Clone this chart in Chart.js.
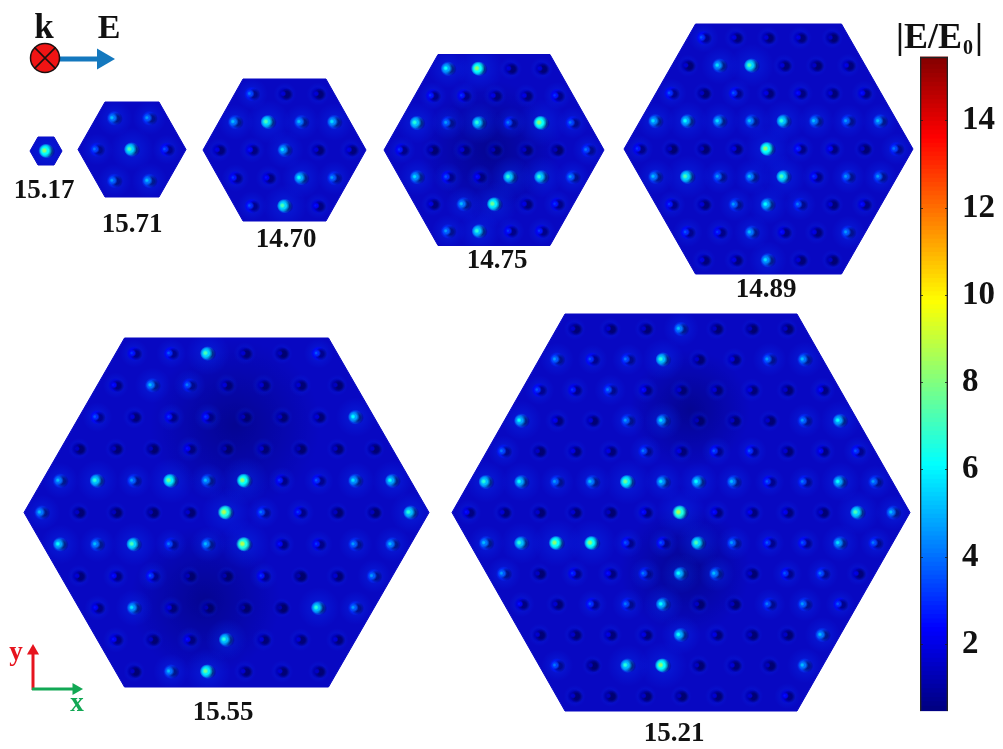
<!DOCTYPE html>
<html>
<head>
<meta charset="utf-8">
<title>Field enhancement maps</title>
<script src="https://cdn.jsdelivr.net/npm/chart.js@4/dist/chart.umd.min.js"></script>
<style>
    body { margin: 0; background: #fff; }
    #wrap { position: relative; width: 1003px; height: 749px; overflow: hidden; }
    #maps { position: absolute; left: 0; top: 0; }
    #bar { position: absolute; left: 915px; top: 23px; }
</style>
</head>
<body>
<div id="wrap">
    <canvas id="maps" width="1003" height="749"></canvas>
    <canvas id="bar" width="88" height="722"></canvas>
</div>
<script>
// peak |E/E0| printed under each map
const peakLabels = ['15.17', '15.71', '14.70', '14.75', '14.89', '15.55', '15.21'];

// local |E/E0| read at each particle, row by row from the top of each hexagon
const field1517 = [[8]];
const field1571 = [[5, 4.5], [4, 7, 3.5], [4.5, 5]];
const field1470 = [
    [4, 1.8, 1.8],
    [5, 7, 5, 5.5],
    [2, 2.5, 5.5, 1.8, 2],
    [3, 2.5, 6, 4.5],
    [3.5, 7, 2.5]
];
const field1475 = [
    [6, 8, 1.8, 1.8],
    [3, 3, 2, 2, 3],
    [6.5, 4.5, 6.5, 4, 8, 4],
    [3, 1.5, 1.8, 1.3, 1.5, 1.3, 4],
    [5.5, 3.5, 2.5, 6.5, 6.5, 4.5],
    [2, 5, 7.5, 2, 3],
    [4.5, 6.5, 3, 3]
];
const field1489 = [
    [3.5, 2, 1.8, 2, 1.5],
    [1.7, 5.5, 7, 1.8, 1.5, 2],
    [3.5, 1.5, 3.5, 2, 2.5, 1.8, 2.5],
    [5.5, 6, 5.5, 5, 6.5, 5, 4.5, 5],
    [3, 1.5, 1.5, 2, 8, 3, 2.5, 1.5, 4],
    [5, 7, 4.5, 5, 7, 3, 4.5, 4.5],
    [3, 1.8, 4.5, 6, 4, 1.8, 2.5],
    [3.5, 3, 5, 2.5, 2, 4.5],
    [2, 2, 5.5, 1.8, 1.5]
];
const field1555 = [
    [3, 3.5, 7, 1.7, 1.4, 3.5],
    [2.5, 5, 4, 1.8, 1.7, 1.7, 1.4],
    [3.5, 1.8, 3, 3, 1.3, 1.5, 1.8, 6],
    [1.5, 1.5, 1.3, 2.5, 1.2, 1.7, 1.3, 1.5, 1.5],
    [5, 6.5, 4.5, 7.5, 5, 8, 3, 3.5, 5.5, 6],
    [5, 1.5, 1.4, 1.3, 1.6, 8.5, 4, 3, 1.4, 1.4, 6.5],
    [6, 5, 7, 4, 5, 8.5, 2.5, 3, 4.5, 5],
    [1.8, 2.5, 3.5, 1.3, 1.1, 3, 1.1, 1.7, 4.5],
    [2.5, 5.5, 2, 1.2, 1.1, 1.1, 6.5, 4.5],
    [2.5, 1.5, 2.5, 6.5, 1.8, 1.8, 1.8],
    [1.5, 5, 7.5, 1.7, 1.7, 1.5]
];
const field1521 = [
    [1.6, 1.7, 1.6, 5, 1.5, 1.4, 1.5],
    [4.5, 3.5, 4, 6.5, 1.6, 2, 4.5, 5],
    [3.5, 3, 4, 2.5, 1.7, 1.8, 2, 1.6, 2.5],
    [6, 2.2, 1.8, 4.5, 5.5, 1.3, 1.5, 1.6, 4.5, 6],
    [4, 1.5, 2, 2, 4, 2, 3.5, 3.5, 1.7, 2.5, 3.5],
    [6.5, 6, 4.5, 5, 7.5, 5.5, 6, 5, 3.5, 4, 6, 4.5],
    [2.5, 1.8, 1.6, 1.7, 1.4, 2.5, 8.5, 2.5, 2.2, 2.2, 1.7, 7, 5],
    [5, 6.5, 8, 8, 3.5, 3.5, 7, 4.5, 3.5, 3.5, 5.5, 4],
    [4.5, 1.5, 3, 2.5, 4, 6, 5, 1.6, 3.5, 4, 2],
    [2.5, 1.7, 3.5, 4, 6, 1.5, 1.4, 4, 4.5, 3.5],
    [1.7, 1.6, 2, 2, 6, 2, 1.5, 1.5, 5],
    [4, 1.3, 6.5, 8, 1.5, 1.8, 1.4, 5],
    [1.6, 1.4, 1.5, 1.4, 1.7, 1.7, 2.5]
];

// colour bar ticks and range
const barTicks = [2, 4, 6, 8, 10, 12, 14];
const barMin = 0.47;
const barMax = 15.47;

// page layout of the panels, in the same order as peakLabels
const panels = [
    { field: field1517, cx: 46, cy: 151, halfW: 16, halfTop: 8, halfH: 14, px: 0, py: 0, partX: 47, labelX: 44, labelY: 198 },
    { field: field1571, cx: 132, cy: 149.5, halfW: 54, halfTop: 27, halfH: 47.5, px: 35, py: 31.3, partX: 132, labelX: 132, labelY: 232 },
    { field: field1470, cx: 284.5, cy: 150, halfW: 81.5, halfTop: 41.5, halfH: 71, px: 33, py: 28, partX: 285, labelX: 286, labelY: 247 },
    { field: field1475, cx: 494, cy: 150, halfW: 110, halfTop: 56, halfH: 95.5, px: 31.1, py: 27.1, partX: 495, labelX: 497, labelY: 268 },
    { field: field1489, cx: 768.5, cy: 149, halfW: 144.5, halfTop: 73, halfH: 125, px: 32.1, py: 27.8, partX: 768, labelX: 766, labelY: 297 },
    { field: field1555, cx: 226.5, cy: 512.5, halfW: 202.5, halfTop: 102, halfH: 174.5, px: 36.9, py: 31.8, partX: 226.5, labelX: 223, labelY: 720 },
    { field: field1521, cx: 681, cy: 512.5, halfW: 229, halfTop: 116, halfH: 198.5, px: 35.4, py: 30.6, partX: 681, labelX: 674, labelY: 741 }
];

// darker background patches inside the maps
const darkX = [490, 235, 205, 690, 685];
const darkY = [150, 425, 600, 410, 570];
const darkR = [70, 85, 75, 60, 65];

function jetChannels(v) {
    const t = Math.min(1, Math.max(0, (v - barMin) / (barMax - barMin)));
    const ch = d => Math.round(255 * Math.min(1, Math.max(0, 1.5 - Math.abs(4 * t - d))));
    return [ch(3), ch(2), ch(1)];
}

function jet(v, alpha = 1) {
    return `rgba(${jetChannels(v).join(',')},${alpha})`;
}

function hexCorners(p) {
    return [
        { x: p.cx - p.halfW, y: p.cy }, { x: p.cx - p.halfTop, y: p.cy - p.halfH },
        { x: p.cx + p.halfTop, y: p.cy - p.halfH }, { x: p.cx + p.halfW, y: p.cy },
        { x: p.cx + p.halfTop, y: p.cy + p.halfH }, { x: p.cx - p.halfTop, y: p.cy + p.halfH },
        { x: p.cx - p.halfW, y: p.cy }
    ];
}

// soft round marker, colours given per point
function radial(inner, outer, radii, hold = 0) {
    return c => {
        const s = c.chart.scales;
        const r = radii[c.dataIndex];
        if (!c.parsed || !s.x || !r) return 'rgba(0,0,0,0)';
        const px = s.x.getPixelForValue(c.parsed.x);
        const py = s.y.getPixelForValue(c.parsed.y);
        if (!isFinite(px) || !isFinite(py)) return 'rgba(0,0,0,0)';
        const g = c.chart.ctx.createRadialGradient(px, py, 0, px, py, r);
        g.addColorStop(0, inner(c.dataIndex));
        if (hold) g.addColorStop(hold, inner(c.dataIndex));
        g.addColorStop(1, outer(c.dataIndex));
        return g;
    };
}

const datasets = [];

// hexagons first so everything else lands on top
panels.forEach(p => {
    datasets.push({
        type: 'scatter', showLine: true, pointRadius: 0, fill: 'shape',
        borderColor: '#0808c2', borderWidth: 1, backgroundColor: '#0808c2',
        data: hexCorners(p)
    });
});

datasets.push({
    type: 'scatter', hexClip: true, pointBorderWidth: 0,
    data: darkX.map((x, i) => ({ x, y: darkY[i] })),
    pointRadius: darkR,
    pointBackgroundColor: radial(() => 'rgba(0,0,80,0.42)', () => 'rgba(0,0,80,0)', darkR)
});

// one point per particle: glow, shell, dark side, lit body, hot spot
const cells = [];
panels.forEach(p => {
    p.field.forEach((row, r) => {
        const y = p.cy + (r - (p.field.length - 1) / 2) * p.py;
        row.forEach((v, i) => {
            cells.push({ x: p.partX + (i - (row.length - 1) / 2) * p.px, y, v });
        });
    });
});

function softLayer(dx, dy, radii, inner, outer, hold) {
    datasets.push({
        type: 'scatter', hexClip: true, pointBorderWidth: 0,
        data: cells.map(d => ({ x: d.x + dx, y: d.y + dy })),
        pointRadius: radii,
        pointBackgroundColor: radial(inner, outer, radii, hold)
    });
}

softLayer(0, 0, cells.map(d => 8 + d.v * 2),
    () => 'rgba(0,70,255,0.38)', () => 'rgba(0,50,255,0)');
softLayer(-0.5, 0, cells.map(() => 7.5),
    i => jet(cells[i].v * 0.6 + 0.3, 0.95), i => jet(cells[i].v * 0.6 + 0.3, 0), 0.6);
softLayer(2, 0.5, cells.map(() => 6.5),
    () => 'rgba(0,0,70,0.6)', () => 'rgba(0,0,70,0)', 0.45);
softLayer(-1.8, -0.3, cells.map(d => 2 + d.v * 0.62),
    i => jet(cells[i].v * 0.72 + 0.4), i => jet(cells[i].v * 0.72 + 0.4, 0), 0.5);
softLayer(-2.6, -0.5, cells.map(d => 0.8 + d.v * 0.3),
    i => jet(cells[i].v * 1.02), i => jet(cells[i].v * 1.02, 0), 0.35);

// k / E legend
const arrowBlue = '#1478be';
datasets.push({
    type: 'scatter', showLine: true, pointRadius: 0, borderColor: arrowBlue, borderWidth: 5,
    data: [{ x: 58, y: 59 }, { x: 100, y: 59 }]
});
datasets.push({
    type: 'scatter', data: [{ x: 103, y: 59 }], pointStyle: 'triangle', pointRotation: 90,
    pointRadius: 12, pointBorderWidth: 0, pointBackgroundColor: arrowBlue
});
datasets.push({
    type: 'scatter', data: [{ x: 45, y: 58 }], pointRadius: 14.5, pointBorderWidth: 1.5,
    pointBackgroundColor: '#f01414', pointBorderColor: '#1a1010'
});
datasets.push({
    type: 'scatter', data: [{ x: 45, y: 58 }], pointStyle: 'crossRot', pointRadius: 15,
    pointBorderWidth: 1.5, pointBorderColor: '#1a1010'
});

// x / y axes sketch
const axisRed = '#e6141e';
const axisGreen = '#12a854';
datasets.push({
    type: 'scatter', showLine: true, pointRadius: 0, borderColor: axisRed, borderWidth: 3,
    data: [{ x: 33, y: 690 }, { x: 33, y: 652 }]
});
datasets.push({
    type: 'scatter', data: [{ x: 33, y: 651 }], pointStyle: 'triangle',
    pointRadius: 7, pointBorderWidth: 0, pointBackgroundColor: axisRed
});
datasets.push({
    type: 'scatter', showLine: true, pointRadius: 0, borderColor: axisGreen, borderWidth: 3,
    data: [{ x: 32, y: 689 }, { x: 74, y: 689 }]
});
datasets.push({
    type: 'scatter', data: [{ x: 76, y: 689 }], pointStyle: 'triangle', pointRotation: 90,
    pointRadius: 7, pointBorderWidth: 0, pointBackgroundColor: axisGreen
});

// Chart.js paints the first dataset last, the list above is bottom to top
datasets.reverse();

const serif = '"Liberation Serif", "Times New Roman", serif';

// keeps the soft layers inside the hexagons
const hexClipPlugin = {
    id: 'hexClip',
    beforeDatasetDraw(chart, args) {
        if (!chart.data.datasets[args.index].hexClip) return;
        const ctx = chart.ctx;
        const { x, y } = chart.scales;
        ctx.save();
        ctx.beginPath();
        panels.forEach(p => {
            hexCorners(p).forEach((pt, i) => {
                const px = x.getPixelForValue(pt.x);
                const py = y.getPixelForValue(pt.y);
                if (i === 0) ctx.moveTo(px, py);
                else ctx.lineTo(px, py);
            });
            ctx.closePath();
        });
        ctx.clip();
    },
    afterDatasetDraw(chart, args) {
        if (chart.data.datasets[args.index].hexClip) chart.ctx.restore();
    }
};

const textPlugin = {
    id: 'mapText',
    afterDraw(chart) {
        const ctx = chart.ctx;
        const put = (text, x, y, size, color, align) => {
            ctx.font = `bold ${size}px ${serif}`;
            ctx.fillStyle = color;
            ctx.textAlign = align || 'center';
            ctx.textBaseline = 'alphabetic';
            ctx.fillText(text, x, y);
        };
        ctx.save();
        panels.forEach((p, i) => put(peakLabels[i], p.labelX, p.labelY, 27, '#111'));
        put('k', 44, 38, 35, '#111');
        put('E', 109, 38, 34, '#111');
        put('y', 16, 660, 27, axisRed);
        put('x', 77, 711, 27, axisGreen);
        put('|E/E', 896, 48, 36, '#111', 'left');
        put('0', 963, 54, 20, '#111', 'left');
        put('|', 975, 48, 36, '#111', 'left');
        ctx.restore();
    }
};

new Chart(document.getElementById('maps'), {
    type: 'scatter',
    data: { datasets },
    options: {
        responsive: false,
        animation: false,
        layout: { padding: 0, autoPadding: false },
        scales: {
            x: { type: 'linear', min: 0, max: 1003, display: false },
            y: { type: 'linear', min: 0, max: 749, reverse: true, display: false }
        },
        plugins: { legend: { display: false }, tooltip: { enabled: false } }
    },
    plugins: [hexClipPlugin, textPlugin]
});

// colour bar: thin floating bars, one per colour step
const barSteps = [];
for (let v = barMin; v < barMax; v += 0.1) barSteps.push(v);

const barSets = barSteps.map(v => ({
    data: [[v, v + 0.12]],
    backgroundColor: jet(v + 0.05),
    borderWidth: 0,
    barPercentage: 1,
    categoryPercentage: 1,
    grouped: false
}));
barSets.unshift({
    data: [[barMin, barMax]],
    backgroundColor: 'rgba(0,0,0,0)',
    borderColor: '#222',
    borderWidth: 1,
    barPercentage: 1,
    categoryPercentage: 1,
    grouped: false
});

new Chart(document.getElementById('bar'), {
    type: 'bar',
    data: { labels: [''], datasets: barSets },
    options: {
        responsive: false,
        animation: false,
        layout: { padding: { left: 5, top: 17, bottom: 20 }, autoPadding: false },
        scales: {
            x: { display: false },
            y: {
                position: 'right',
                min: barMin,
                max: barMax,
                afterBuildTicks: axis => { axis.ticks = barTicks.map(value => ({ value })); },
                afterFit: axis => { axis.width = 55; },
                border: { display: false, dash: [3, 22, 3] },
                grid: { z: 1, color: 'rgba(30,30,30,0.8)', drawTicks: false, tickLength: 0 },
                ticks: {
                    color: '#111',
                    padding: 14,
                    font: { family: serif, size: 33, weight: 'bold' }
                }
            }
        },
        plugins: { legend: { display: false }, tooltip: { enabled: false } }
    }
});
</script>
</body>
</html>
